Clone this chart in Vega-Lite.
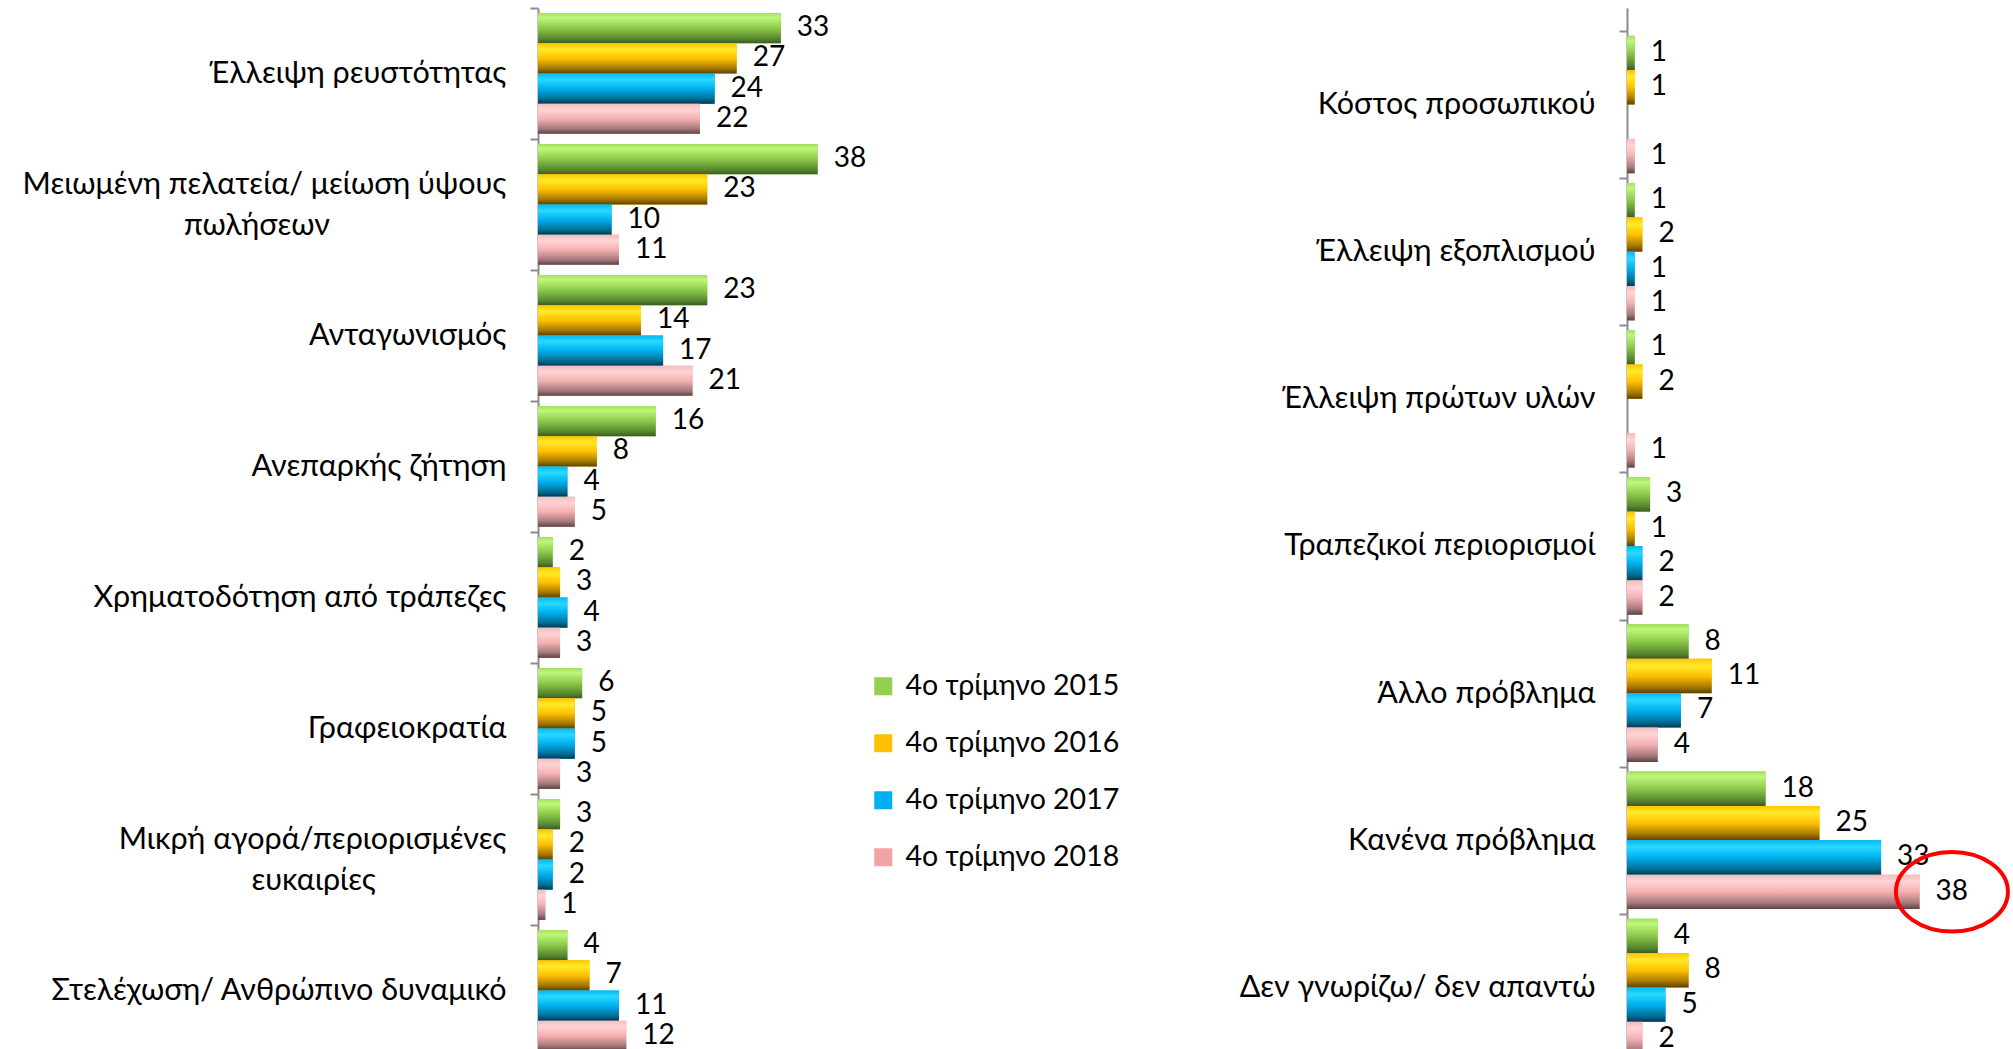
{
  "$schema": "https://vega.github.io/schema/vega-lite/v6.json",
  "background": "white",
  "padding": {"left": 22, "top": -7, "right": 0, "bottom": 0},
  "spacing": 119,
  "config": {"view": {"stroke": null}, "font": "Lato", "text": {"font": "Lato"}},
  "resolve": {"scale": {"color": "independent", "yOffset": "independent", "x": "independent", "y": "independent"}, "legend": {"color": "independent"}},
  "datasets": {
    "left": [
      {"cat": "Έλλειψη ρευστότητας", "series": "4ο τρίμηνο 2015", "value": 33},
      {"cat": "Έλλειψη ρευστότητας", "series": "4ο τρίμηνο 2016", "value": 27},
      {"cat": "Έλλειψη ρευστότητας", "series": "4ο τρίμηνο 2017", "value": 24},
      {"cat": "Έλλειψη ρευστότητας", "series": "4ο τρίμηνο 2018", "value": 22},
      {"cat": "Μειωμένη πελατεία/ μείωση ύψους|πωλήσεων\u00a0\u00a0\u2800\u2800\u2800\u2800\u2800\u2800\u2800", "series": "4ο τρίμηνο 2015", "value": 38},
      {"cat": "Μειωμένη πελατεία/ μείωση ύψους|πωλήσεων\u00a0\u00a0\u2800\u2800\u2800\u2800\u2800\u2800\u2800", "series": "4ο τρίμηνο 2016", "value": 23},
      {"cat": "Μειωμένη πελατεία/ μείωση ύψους|πωλήσεων\u00a0\u00a0\u2800\u2800\u2800\u2800\u2800\u2800\u2800", "series": "4ο τρίμηνο 2017", "value": 10},
      {"cat": "Μειωμένη πελατεία/ μείωση ύψους|πωλήσεων\u00a0\u00a0\u2800\u2800\u2800\u2800\u2800\u2800\u2800", "series": "4ο τρίμηνο 2018", "value": 11},
      {"cat": "Ανταγωνισμός", "series": "4ο τρίμηνο 2015", "value": 23},
      {"cat": "Ανταγωνισμός", "series": "4ο τρίμηνο 2016", "value": 14},
      {"cat": "Ανταγωνισμός", "series": "4ο τρίμηνο 2017", "value": 17},
      {"cat": "Ανταγωνισμός", "series": "4ο τρίμηνο 2018", "value": 21},
      {"cat": "Ανεπαρκής ζήτηση", "series": "4ο τρίμηνο 2015", "value": 16},
      {"cat": "Ανεπαρκής ζήτηση", "series": "4ο τρίμηνο 2016", "value": 8},
      {"cat": "Ανεπαρκής ζήτηση", "series": "4ο τρίμηνο 2017", "value": 4},
      {"cat": "Ανεπαρκής ζήτηση", "series": "4ο τρίμηνο 2018", "value": 5},
      {"cat": "Χρηματοδότηση από τράπεζες", "series": "4ο τρίμηνο 2015", "value": 2},
      {"cat": "Χρηματοδότηση από τράπεζες", "series": "4ο τρίμηνο 2016", "value": 3},
      {"cat": "Χρηματοδότηση από τράπεζες", "series": "4ο τρίμηνο 2017", "value": 4},
      {"cat": "Χρηματοδότηση από τράπεζες", "series": "4ο τρίμηνο 2018", "value": 3},
      {"cat": "Γραφειοκρατία", "series": "4ο τρίμηνο 2015", "value": 6},
      {"cat": "Γραφειοκρατία", "series": "4ο τρίμηνο 2016", "value": 5},
      {"cat": "Γραφειοκρατία", "series": "4ο τρίμηνο 2017", "value": 5},
      {"cat": "Γραφειοκρατία", "series": "4ο τρίμηνο 2018", "value": 3},
      {"cat": "Μικρή αγορά/περιορισμένες|ευκαιρίες\u00a0\u00a0\u2800\u2800\u2800\u2800\u2800", "series": "4ο τρίμηνο 2015", "value": 3},
      {"cat": "Μικρή αγορά/περιορισμένες|ευκαιρίες\u00a0\u00a0\u2800\u2800\u2800\u2800\u2800", "series": "4ο τρίμηνο 2016", "value": 2},
      {"cat": "Μικρή αγορά/περιορισμένες|ευκαιρίες\u00a0\u00a0\u2800\u2800\u2800\u2800\u2800", "series": "4ο τρίμηνο 2017", "value": 2},
      {"cat": "Μικρή αγορά/περιορισμένες|ευκαιρίες\u00a0\u00a0\u2800\u2800\u2800\u2800\u2800", "series": "4ο τρίμηνο 2018", "value": 1},
      {"cat": "Στελέχωση/ Ανθρώπινο δυναμικό", "series": "4ο τρίμηνο 2015", "value": 4},
      {"cat": "Στελέχωση/ Ανθρώπινο δυναμικό", "series": "4ο τρίμηνο 2016", "value": 7},
      {"cat": "Στελέχωση/ Ανθρώπινο δυναμικό", "series": "4ο τρίμηνο 2017", "value": 11},
      {"cat": "Στελέχωση/ Ανθρώπινο δυναμικό", "series": "4ο τρίμηνο 2018", "value": 12}
    ],
    "right": [
      {"cat": "Κόστος προσωπικού", "series": "4ο τρίμηνο 2015", "value": 1},
      {"cat": "Κόστος προσωπικού", "series": "4ο τρίμηνο 2016", "value": 1},
      {"cat": "Κόστος προσωπικού", "series": "4ο τρίμηνο 2018", "value": 1},
      {"cat": "Έλλειψη εξοπλισμού", "series": "4ο τρίμηνο 2015", "value": 1},
      {"cat": "Έλλειψη εξοπλισμού", "series": "4ο τρίμηνο 2016", "value": 2},
      {"cat": "Έλλειψη εξοπλισμού", "series": "4ο τρίμηνο 2017", "value": 1},
      {"cat": "Έλλειψη εξοπλισμού", "series": "4ο τρίμηνο 2018", "value": 1},
      {"cat": "Έλλειψη πρώτων υλών", "series": "4ο τρίμηνο 2015", "value": 1},
      {"cat": "Έλλειψη πρώτων υλών", "series": "4ο τρίμηνο 2016", "value": 2},
      {"cat": "Έλλειψη πρώτων υλών", "series": "4ο τρίμηνο 2018", "value": 1},
      {"cat": "Τραπεζικοί περιορισμοί", "series": "4ο τρίμηνο 2015", "value": 3},
      {"cat": "Τραπεζικοί περιορισμοί", "series": "4ο τρίμηνο 2016", "value": 1},
      {"cat": "Τραπεζικοί περιορισμοί", "series": "4ο τρίμηνο 2017", "value": 2},
      {"cat": "Τραπεζικοί περιορισμοί", "series": "4ο τρίμηνο 2018", "value": 2},
      {"cat": "Άλλο πρόβλημα", "series": "4ο τρίμηνο 2015", "value": 8},
      {"cat": "Άλλο πρόβλημα", "series": "4ο τρίμηνο 2016", "value": 11},
      {"cat": "Άλλο πρόβλημα", "series": "4ο τρίμηνο 2017", "value": 7},
      {"cat": "Άλλο πρόβλημα", "series": "4ο τρίμηνο 2018", "value": 4},
      {"cat": "Κανένα πρόβλημα", "series": "4ο τρίμηνο 2015", "value": 18},
      {"cat": "Κανένα πρόβλημα", "series": "4ο τρίμηνο 2016", "value": 25},
      {"cat": "Κανένα πρόβλημα", "series": "4ο τρίμηνο 2017", "value": 33},
      {"cat": "Κανένα πρόβλημα", "series": "4ο τρίμηνο 2018", "value": 38},
      {"cat": "Δεν γνωρίζω/ δεν απαντώ", "series": "4ο τρίμηνο 2015", "value": 4},
      {"cat": "Δεν γνωρίζω/ δεν απαντώ", "series": "4ο τρίμηνο 2016", "value": 8},
      {"cat": "Δεν γνωρίζω/ δεν απαντώ", "series": "4ο τρίμηνο 2017", "value": 5},
      {"cat": "Δεν γνωρίζω/ δεν απαντώ", "series": "4ο τρίμηνο 2018", "value": 2}
    ],
    "highlight": [
      {"cat": "Κανένα πρόβλημα", "series": "4ο τρίμηνο 2018", "value": 42.2}
    ]
  },
  "hconcat": [
    {
      "width": 340,
      "height": 1048,
      "data": {"name": "left"},
      "encoding": {
        "y": {"field": "cat", "type": "nominal", "sort": null,
          "scale": {"paddingInner": 0, "paddingOuter": 0},
          "axis": {"title": null, "labelFont": "Lato", "labelFontSize": 30.5, "labelColor": "#000000",
            "labelExpr": "split(datum.label, '|')", "labelLineHeight": 41, "labelLimit": 0,
            "labelOffset": {"condition": {"test": "indexof(datum.label, '|') >= 0", "value": -20}, "value": 0},
            "labelPadding": 24, "domainColor": "#8c8c8c", "domainWidth": 2, "tickColor": "#8c8c8c",
            "tickWidth": 2, "tickSize": 8, "tickBand": "extent"}},
        "yOffset": {"field": "series", "type": "nominal", "sort": null, "scale": {"paddingInner": 0, "paddingOuter": 0.17}},
        "x": {"field": "value", "type": "quantitative", "scale": {"domain": [0, 46.2], "nice": false}, "axis": null}
      },
      "layer": [
        {
          "mark": {"type": "bar"},
          "encoding": {
            "color": {"field": "series", "type": "nominal", "sort": null,
              "scale": {"domain": ["4ο τρίμηνο 2015", "4ο τρίμηνο 2016", "4ο τρίμηνο 2017", "4ο τρίμηνο 2018"],
                "range": ["#92D050", "#FFC000", "#00B0F0", "#F2A3A6"]},
              "legend": {"title": null, "orient": "none", "legendX": 331, "legendY": 664, "padding": 0,
                "symbolType": "square", "symbolSize": 324, "symbolStrokeWidth": 0, "labelFont": "Lato",
                "labelFontSize": 28.5, "labelColor": "#000000", "labelOffset": 8, "rowPadding": 28, "labelLimit": 0}}
          }
        },
        {
          "mark": {"type": "bar"},
          "encoding": {
            "color": {
              "condition": [
                {"test": "datum.series === '4ο τρίμηνο 2015'", "value": {"gradient": "linear", "x1": 0, "y1": 0, "x2": 0, "y2": 1, "stops": [{"offset": 0, "color": "#A4E05A"}, {"offset": 0.15, "color": "#BDF87A"}, {"offset": 0.5, "color": "#8CC84A"}, {"offset": 0.85, "color": "#56862E"}, {"offset": 1, "color": "#3A5A20"}]}},
                {"test": "datum.series === '4ο τρίμηνο 2016'", "value": {"gradient": "linear", "x1": 0, "y1": 0, "x2": 0, "y2": 1, "stops": [{"offset": 0, "color": "#FFC400"}, {"offset": 0.2, "color": "#FFEA2A"}, {"offset": 0.5, "color": "#FFC000"}, {"offset": 0.82, "color": "#A87A00"}, {"offset": 1, "color": "#5A4200"}]}},
                {"test": "datum.series === '4ο τρίμηνο 2017'", "value": {"gradient": "linear", "x1": 0, "y1": 0, "x2": 0, "y2": 1, "stops": [{"offset": 0, "color": "#06B8F4"}, {"offset": 0.2, "color": "#28DAFF"}, {"offset": 0.5, "color": "#00B0F0"}, {"offset": 0.82, "color": "#00729A"}, {"offset": 1, "color": "#003A52"}]}}
              ],
              "value": {"gradient": "linear", "x1": 0, "y1": 0, "x2": 0, "y2": 1, "stops": [{"offset": 0, "color": "#F5BCBE"}, {"offset": 0.2, "color": "#FFD4D6"}, {"offset": 0.5, "color": "#F4B0B2"}, {"offset": 0.82, "color": "#A87A7C"}, {"offset": 1, "color": "#5A4243"}]}
            }
          }
        },
        {
          "mark": {"type": "text", "align": "left", "baseline": "middle", "dx": 16, "font": "Lato", "fontSize": 28, "color": "#000000"},
          "encoding": {"text": {"field": "value", "type": "quantitative"}}
        }
      ]
    },
    {
      "width": 380,
      "height": 1053,
      "data": {"name": "right"},
      "encoding": {
        "y": {"field": "cat", "type": "nominal", "sort": null,
          "scale": {"paddingInner": 0, "paddingOuter": 0.078, "align": 1},
          "axis": {"title": null, "labelFont": "Lato", "labelFontSize": 30.5, "labelColor": "#000000",
            "labelLimit": 0, "labelPadding": 24, "domainColor": "#8c8c8c", "domainWidth": 2,
            "tickColor": "#8c8c8c", "tickWidth": 2, "tickSize": 8, "tickBand": "extent"}},
        "yOffset": {"field": "series", "type": "nominal", "sort": ["4ο τρίμηνο 2015", "4ο τρίμηνο 2016", "4ο τρίμηνο 2017", "4ο τρίμηνο 2018"], "scale": {"domain": ["4ο τρίμηνο 2015", "4ο τρίμηνο 2016", "4ο τρίμηνο 2017", "4ο τρίμηνο 2018"], "paddingInner": 0, "paddingOuter": 0.14}},
        "x": {"field": "value", "type": "quantitative", "scale": {"domain": [0, 49.35], "nice": false}, "axis": null}
      },
      "layer": [
        {
          "mark": {"type": "bar"},
          "encoding": {
            "color": {"field": "series", "type": "nominal", "sort": null,
              "scale": {"domain": ["4ο τρίμηνο 2015", "4ο τρίμηνο 2016", "4ο τρίμηνο 2017", "4ο τρίμηνο 2018"],
                "range": ["#92D050", "#FFC000", "#00B0F0", "#F2A3A6"]},
              "legend": null}
          }
        },
        {
          "mark": {"type": "bar"},
          "encoding": {
            "color": {
              "condition": [
                {"test": "datum.series === '4ο τρίμηνο 2015'", "value": {"gradient": "linear", "x1": 0, "y1": 0, "x2": 0, "y2": 1, "stops": [{"offset": 0, "color": "#A4E05A"}, {"offset": 0.15, "color": "#BDF87A"}, {"offset": 0.5, "color": "#8CC84A"}, {"offset": 0.85, "color": "#56862E"}, {"offset": 1, "color": "#3A5A20"}]}},
                {"test": "datum.series === '4ο τρίμηνο 2016'", "value": {"gradient": "linear", "x1": 0, "y1": 0, "x2": 0, "y2": 1, "stops": [{"offset": 0, "color": "#FFC400"}, {"offset": 0.2, "color": "#FFEA2A"}, {"offset": 0.5, "color": "#FFC000"}, {"offset": 0.82, "color": "#A87A00"}, {"offset": 1, "color": "#5A4200"}]}},
                {"test": "datum.series === '4ο τρίμηνο 2017'", "value": {"gradient": "linear", "x1": 0, "y1": 0, "x2": 0, "y2": 1, "stops": [{"offset": 0, "color": "#06B8F4"}, {"offset": 0.2, "color": "#28DAFF"}, {"offset": 0.5, "color": "#00B0F0"}, {"offset": 0.82, "color": "#00729A"}, {"offset": 1, "color": "#003A52"}]}}
              ],
              "value": {"gradient": "linear", "x1": 0, "y1": 0, "x2": 0, "y2": 1, "stops": [{"offset": 0, "color": "#F5BCBE"}, {"offset": 0.2, "color": "#FFD4D6"}, {"offset": 0.5, "color": "#F4B0B2"}, {"offset": 0.82, "color": "#A87A7C"}, {"offset": 1, "color": "#5A4243"}]}
            }
          }
        },
        {
          "mark": {"type": "text", "align": "left", "baseline": "middle", "dx": 16, "font": "Lato", "fontSize": 28, "color": "#000000"},
          "encoding": {"text": {"field": "value", "type": "quantitative"}}
        },
        {
          "data": {"name": "highlight"},
          "mark": {"type": "point", "filled": false, "stroke": "#FF0000", "strokeWidth": 4, "opacity": 1,
            "shape": "M-1,0 A1,0.71 0 1,1 1,0 A1,0.71 0 1,1 -1,0 Z", "size": 12544},
          "encoding": {}
        }
      ]
    }
  ]
}
